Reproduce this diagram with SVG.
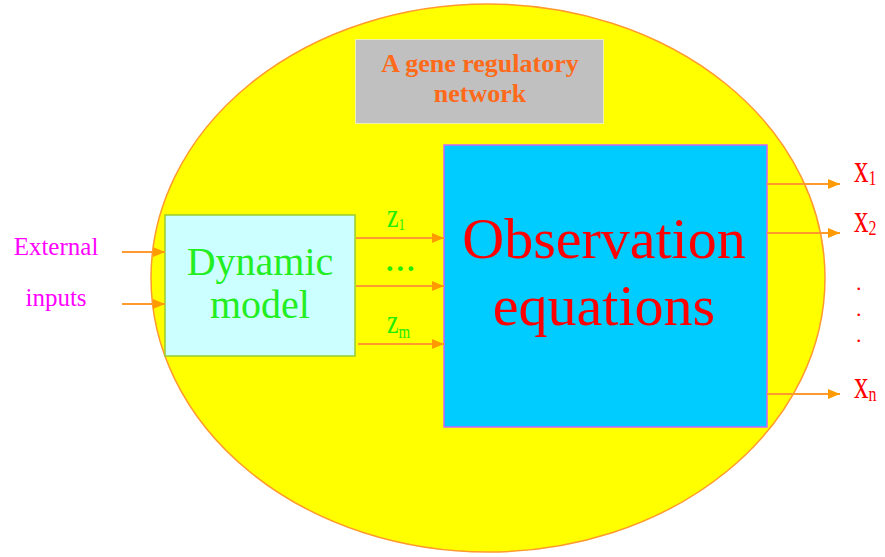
<svg xmlns="http://www.w3.org/2000/svg" width="885" height="557" viewBox="0 0 885 557">
<style>
.serif{font-family:"Liberation Serif","Times New Roman",serif}
.conn{stroke:#ff9a2e;stroke-width:2;fill:none}
.red{fill:#ff0000}
.green{fill:#22ee00}
</style>
<defs>
<marker id="ah" viewBox="0 0 12 10" refX="12" refY="5" markerWidth="12" markerHeight="10" markerUnits="userSpaceOnUse" orient="auto">
<path d="M0,0 L12,5 L0,10 Z" fill="#ff9a00"/>
</marker>
</defs>
<rect width="885" height="557" fill="#ffffff"/>
<g id="network">
<ellipse cx="488" cy="278" rx="337" ry="274" fill="#ffff00" stroke="#ff9a2e" stroke-width="1.5"/>
</g>
<g id="title">
<rect x="355.5" y="39.5" width="248" height="84" fill="#c0c0c0" stroke="#ffffff" stroke-width="1" stroke-dasharray="1,1"/>
<text class="serif" x="480" y="72" font-size="26" font-weight="bold" fill="#ff6a1a" text-anchor="middle">A gene regulatory</text>
<text class="serif" x="480" y="102" font-size="26" font-weight="bold" fill="#ff6a1a" text-anchor="middle">network</text>
</g>
<g id="dynamic">
<rect x="165" y="215" width="190" height="141" fill="#ccffff" stroke="#99cc33" stroke-width="1.5"/>
<text class="serif" x="260" y="275" font-size="40" fill="#22ee22" text-anchor="middle">Dynamic</text>
<text class="serif" x="260" y="318" font-size="40" fill="#22ee22" text-anchor="middle">model</text>
</g>
<g id="observation">
<rect x="444" y="145" width="323" height="282" fill="#00ccff" stroke="#cc66ff" stroke-width="1.5"/>
<text class="serif red" x="604" y="258" font-size="58" text-anchor="middle">Observation</text>
<text class="serif red" x="604" y="325" font-size="58" text-anchor="middle">equations</text>
</g>
<g id="inputs">
<text class="serif" x="56" y="255" font-size="25" fill="#ff00ff" text-anchor="middle">External</text>
<text class="serif" x="56" y="306" font-size="25" fill="#ff00ff" text-anchor="middle">inputs</text>
</g>
<g id="connectors">
<line class="conn" x1="122" y1="252" x2="165" y2="252" marker-end="url(#ah)"/>
<line class="conn" x1="122" y1="304" x2="165" y2="304" marker-end="url(#ah)"/>
<line class="conn" x1="356" y1="238" x2="444" y2="238" marker-end="url(#ah)"/>
<line class="conn" x1="356" y1="286" x2="444" y2="286" marker-end="url(#ah)"/>
<line class="conn" x1="358" y1="344" x2="444" y2="344" marker-end="url(#ah)"/>
<line class="conn" x1="767" y1="184" x2="840" y2="184" marker-end="url(#ah)"/>
<line class="conn" x1="767" y1="233" x2="840" y2="233" marker-end="url(#ah)"/>
<line class="conn" x1="767" y1="394" x2="840" y2="394" marker-end="url(#ah)"/>
</g>
<g id="zlabels">
<text class="serif green" transform="translate(387,227) scale(1,1.3)" font-size="26">z<tspan font-size="13" dy="2">1</tspan></text>
<text class="serif green" x="386" y="271" font-size="30" font-weight="bold" letter-spacing="3">...</text>
<text class="serif green" transform="translate(387,333) scale(1,1.3)" font-size="26">z<tspan font-size="15" dy="4">m</tspan></text>
</g>
<g id="xlabels">
<text class="serif red" transform="translate(854,182) scale(1,1.35)" font-size="29">x<tspan font-size="16" dy="2">1</tspan></text>
<text class="serif red" transform="translate(854,232) scale(1,1.35)" font-size="29">x<tspan font-size="16" dy="2">2</tspan></text>
<text class="serif red" x="856" y="290" font-size="22">.</text>
<text class="serif red" x="856" y="316" font-size="22">.</text>
<text class="serif red" x="856" y="342" font-size="22">.</text>
<text class="serif red" transform="translate(854,398) scale(1,1.35)" font-size="29">x<tspan font-size="16" dy="2">n</tspan></text>
</g>
</svg>
